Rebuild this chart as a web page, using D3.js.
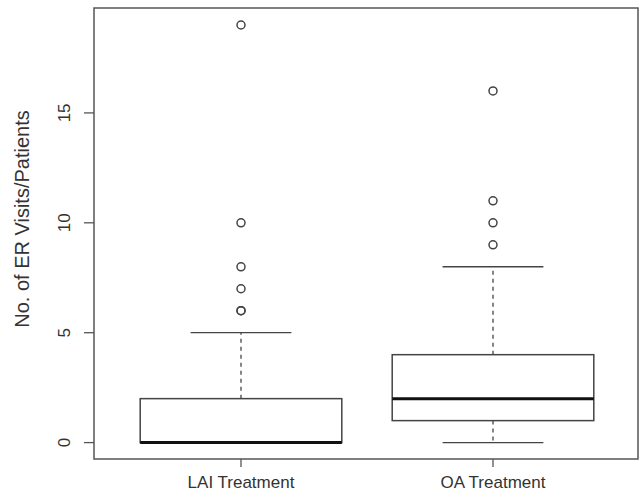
<!DOCTYPE html>
<html>
<head>
<meta charset="utf-8">
<script src="https://cdn.jsdelivr.net/npm/d3@7"></script>
<style>
  body { margin: 0; background: #fff; }
  svg { display: block; font-family: "Liberation Sans", Arial, sans-serif; }
</style>
</head>
<body>
<div id="grafico"></div>
<script>
var categorias = ["LAI Treatment", "OA Treatment"];
var q1 = [0, 1];
var medianas = [0, 2];
var q3 = [2, 4];
var bigodeInf = [0, 0];
var bigodeSup = [5, 8];
var outliersLAI = [6, 6, 7, 8, 10, 19];
var outliersOA = [9, 10, 11, 16];
var ticksY = [0, 5, 10, 15];
var tituloY = "No. of ER Visits/Patients";

var largura = 640, altura = 492;
var caixa = { esq: 94, dir: 638, topo: 8, base: 459 };

var svg = d3.select("#grafico").append("svg")
    .attr("width", largura)
    .attr("height", altura);

// escalas
var x = d3.scaleLinear().domain([0.5, 2.5]).range([115, 619]);
var y = d3.scaleLinear().domain([-0.76, 19.76]).range([caixa.base + 0.3, caixa.topo + 0.3]);

var corLinha = "#444";
var larguraCaixa = 0.8;

var dados = categorias.map(function(c, i) {
    return {
        nome: c, pos: i + 1,
        q1: q1[i], med: medianas[i], q3: q3[i],
        inf: bigodeInf[i], sup: bigodeSup[i],
        out: i == 0 ? outliersLAI : outliersOA
    };
});

var grupos = svg.selectAll("g.box")
    .data(dados)
    .enter()
    .append("g")
    .attr("class", "box");

// bigodes tracejados
grupos.append("line")
    .attr("x1", function(d) { return x(d.pos); })
    .attr("x2", function(d) { return x(d.pos); })
    .attr("y1", function(d) { return y(d.q3); })
    .attr("y2", function(d) { return y(d.sup); })
    .attr("stroke", corLinha).attr("stroke-width", 1.3)
    .attr("stroke-dasharray", "4,4");
grupos.append("line")
    .attr("x1", function(d) { return x(d.pos); })
    .attr("x2", function(d) { return x(d.pos); })
    .attr("y1", function(d) { return y(d.q1); })
    .attr("y2", function(d) { return y(d.inf); })
    .attr("stroke", corLinha).attr("stroke-width", 1.3)
    .attr("stroke-dasharray", "4,4");

// hastes (staples)
["sup", "inf"].forEach(function(k) {
    grupos.append("line")
        .attr("x1", function(d) { return x(d.pos - larguraCaixa / 4); })
        .attr("x2", function(d) { return x(d.pos + larguraCaixa / 4); })
        .attr("y1", function(d) { return y(d[k]); })
        .attr("y2", function(d) { return y(d[k]); })
        .attr("stroke", corLinha).attr("stroke-width", 1.3);
});

// caixas
grupos.append("rect")
    .attr("x", function(d) { return x(d.pos - larguraCaixa / 2); })
    .attr("width", function(d) { return x(d.pos + larguraCaixa / 2) - x(d.pos - larguraCaixa / 2); })
    .attr("y", function(d) { return y(d.q3); })
    .attr("height", function(d) { return y(d.q1) - y(d.q3); })
    .attr("fill", "#fff")
    .attr("stroke", corLinha).attr("stroke-width", 1.5);

// medianas
grupos.append("line")
    .attr("x1", function(d) { return x(d.pos - larguraCaixa / 2); })
    .attr("x2", function(d) { return x(d.pos + larguraCaixa / 2); })
    .attr("y1", function(d) { return y(d.med); })
    .attr("y2", function(d) { return y(d.med); })
    .attr("stroke", "#111").attr("stroke-width", 3);

// outliers
grupos.each(function(d) {
    d3.select(this).selectAll("circle")
        .data(d.out)
        .enter()
        .append("circle")
        .attr("cx", x(d.pos))
        .attr("cy", function(v) { return y(v); })
        .attr("r", 4)
        .attr("fill", "none")
        .attr("stroke", corLinha).attr("stroke-width", 1.5);
});

// moldura
svg.append("rect")
    .attr("x", caixa.esq).attr("y", caixa.topo)
    .attr("width", caixa.dir - caixa.esq)
    .attr("height", caixa.base - caixa.topo)
    .attr("fill", "none")
    .attr("stroke", "#555").attr("stroke-width", 1.5);

// eixo Y
svg.selectAll("line.tickY")
    .data(ticksY)
    .enter()
    .append("line")
    .attr("class", "tickY")
    .attr("x1", caixa.esq - 10).attr("x2", caixa.esq)
    .attr("y1", function(d) { return y(d); })
    .attr("y2", function(d) { return y(d); })
    .attr("stroke", "#555").attr("stroke-width", 1.3);

svg.selectAll("text.tickY")
    .data(ticksY)
    .enter()
    .append("text")
    .attr("class", "tickY")
    .attr("transform", function(d) { return "translate(70," + y(d) + ") rotate(-90)"; })
    .attr("text-anchor", "middle")
    .attr("font-size", 17)
    .attr("fill", "#333")
    .text(function(d) { return d; });

// eixo X
svg.selectAll("line.tickX")
    .data(dados)
    .enter()
    .append("line")
    .attr("class", "tickX")
    .attr("x1", function(d) { return x(d.pos); })
    .attr("x2", function(d) { return x(d.pos); })
    .attr("y1", caixa.base).attr("y2", caixa.base + 8)
    .attr("stroke", "#555").attr("stroke-width", 1.3);

svg.selectAll("text.tickX")
    .data(dados)
    .enter()
    .append("text")
    .attr("class", "tickX")
    .attr("x", function(d) { return x(d.pos); })
    .attr("y", 488)
    .attr("text-anchor", "middle")
    .attr("font-size", 17)
    .attr("fill", "#333")
    .text(function(d) { return d.nome; });

// titulo do eixo Y
svg.append("text")
    .attr("transform", "translate(29,219) rotate(-90)")
    .attr("text-anchor", "middle")
    .attr("font-size", 20)
    .attr("fill", "#333")
    .text(tituloY);
</script>
</body>
</html>
